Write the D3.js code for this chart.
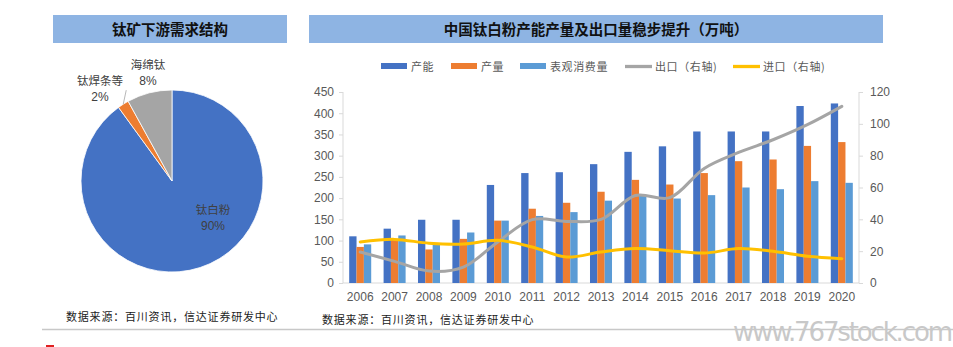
<!DOCTYPE html>
<html><head><meta charset="utf-8">
<script src="https://cdn.jsdelivr.net/npm/d3@7"></script>
<style>
body{margin:0;background:#fff;}
svg{display:block;}
</style></head>
<body><svg id="c" width="953" height="347"></svg>
<script>
// ---- data ----
const pieLabels = ["钛白粉", "钛焊条等", "海绵钛"];
const pieValues = [90, 2, 8];
const years = ["2006","2007","2008","2009","2010","2011","2012","2013","2014","2015","2016","2017","2018","2019","2020"];
const capacity = [110,128,149,149,231,259,261,280,309,322,357,357,357,417,423];
const production = [85,104,79,104,147,175,189,215,243,232,259,287,291,323,332];
const consumption = [91,112,92,119,147,158,167,194,205,199,207,225,221,240,236];
const exportVol = [19.5,13.6,7.5,10,25.8,39.8,38.7,40,55,53.6,72,82,90,99.5,111];
const importVol = [25.8,27.4,25,24.5,26.8,22.6,16.3,19.5,21.6,20.3,18.8,21.6,19.9,16.8,15.3];
const leftTicks = [0,50,100,150,200,250,300,350,400,450];
const rightTicks = [0,20,40,60,80,100,120];
const seriesNames = ["产能","产量","表观消费量"];
const lineNames = ["出口（右轴)","进口（右轴)"];
const title1 = "钛矿下游需求结构";
const title2 = "中国钛白粉产能产量及出口量稳步提升（万吨）";
const sourceText = "数据来源：百川资讯，信达证券研发中心";

const svg = d3.select("#c");
const barColors = ["#4472C4","#ED7D31","#5B9BD5"];
const pieColors = ["#4472C4","#ED7D31","#A5A5A5"];
const lineColors = ["#A5A5A5","#FFC000"];
const txt = "#404040";
const fontCJK = "'Noto Sans CJK SC', sans-serif";
const fontNum = "'Liberation Sans', Arial, sans-serif";

// title bars
svg.append("rect").attr("x",53).attr("y",15).attr("width",234).attr("height",28).attr("fill","#8EB4E3");
svg.append("text").attr("x",170).attr("y",34.5).attr("text-anchor","middle").attr("font-family",fontCJK)
  .attr("font-weight","bold").attr("font-size",14.5).attr("fill","#111").text(title1);
svg.append("rect").attr("x",309).attr("y",15).attr("width",574).attr("height",28).attr("fill","#8EB4E3");
svg.append("text").attr("x",596).attr("y",34.5).attr("text-anchor","middle").attr("font-family",fontCJK)
  .attr("font-weight","bold").attr("font-size",14.5).attr("fill","#111").text(title2);

// ---- pie ----
const pieG = svg.append("g").attr("transform","translate(172,181)");
const r = 91;
const pie = d3.pie().sort(null).value(d=>d)(pieValues);
const arc = d3.arc().innerRadius(0).outerRadius(r);
pieG.selectAll("path").data(pie).join("path").attr("d",arc)
  .attr("fill",(d,i)=>pieColors[i]).attr("stroke","#fff").attr("stroke-width",0.8);
// labels
const pieLabelPos = [[41,33],[-72,-96],[-24,-112]];
pie.forEach((d,i)=>{
  const [lx,ly]=pieLabelPos[i];
  const t = pieG.append("text").attr("text-anchor","middle").attr("fill",txt);
  t.append("tspan").attr("x",lx).attr("y",ly).attr("font-family",fontCJK).attr("font-size",11.5).text(pieLabels[i]);
  t.append("tspan").attr("x",lx).attr("y",ly+16).attr("font-family",fontNum).attr("font-size",12).text(pieValues[i]+"%");
});
// leader line for small slice
{
  const d = pie[1];
  const a = (d.startAngle+d.endAngle)/2;
  const px = Math.sin(a)*r, py = -Math.cos(a)*r;
  pieG.append("line").attr("x1",px).attr("y1",py).attr("x2",px+3).attr("y2",py-14)
    .attr("stroke","#A5A5A5").attr("stroke-width",0.8);
}

// ---- bar/line chart ----
const x0 = 343, x1 = 859, yTop = 92, yBot = 283;
const pIn = 0.36;
const x = d3.scaleBand().domain(years).range([x0,x1]).paddingInner(pIn).paddingOuter(pIn/2);
const xs = d3.scaleBand().domain(d3.range(3)).range([0,x.bandwidth()]).padding(0);
const yL = d3.scaleLinear().domain([0,450]).range([yBot,yTop]);
const yR = d3.scaleLinear().domain([0,120]).range([yBot,yTop]);

const axisCol = "#D9D9D9";
const gL = svg.append("g").attr("transform",`translate(${x0},0)`)
  .call(d3.axisLeft(yL).tickValues(leftTicks).tickSize(4).tickPadding(5));
const gR = svg.append("g").attr("transform",`translate(${x1},0)`)
  .call(d3.axisRight(yR).tickValues(rightTicks).tickSize(4).tickPadding(7));
[gL,gR].forEach(g=>{
  g.select(".domain").attr("stroke",axisCol).attr("d",`M0,${yTop}V${yBot}`);
  g.selectAll(".tick line").attr("stroke",axisCol);
  g.selectAll(".tick text").attr("fill","#595959").attr("font-family",fontNum).attr("font-size",12);
});
const gB = svg.append("g").attr("transform",`translate(0,${yBot})`)
  .call(d3.axisBottom(x).tickSize(0).tickPadding(9));
gB.select(".domain").attr("stroke",axisCol).attr("d",`M${x0},0H${x1}`);
gB.selectAll(".tick text").attr("fill","#595959").attr("font-family",fontNum).attr("font-size",12);

// bars
const barData = [capacity, production, consumption];
barData.forEach((arr,si)=>{
  svg.append("g").selectAll("rect").data(arr).join("rect")
    .attr("x",(d,i)=>x(years[i])+xs(si))
    .attr("y",d=>yL(d))
    .attr("width",xs.bandwidth())
    .attr("height",d=>yBot-yL(d))
    .attr("fill",barColors[si]);
});

// lines
const line = d3.line().curve(d3.curveCatmullRom.alpha(0.5))
  .x((d,i)=>x(years[i])+x.bandwidth()/2).y(d=>yR(d));
[exportVol, importVol].forEach((arr,li)=>{
  svg.append("path").attr("d",line(arr)).attr("fill","none")
    .attr("stroke",lineColors[li]).attr("stroke-width",3).attr("stroke-linecap","round");
});

// legend
const leg = svg.append("g").attr("font-family",fontCJK).attr("font-size",11).attr("letter-spacing",0.6).attr("fill","#595959");
const legItems = [
  {x:381, type:"rect", c:barColors[0], t:seriesNames[0]},
  {x:451, type:"rect", c:barColors[1], t:seriesNames[1]},
  {x:520, type:"rect", c:barColors[2], t:seriesNames[2]},
  {x:625, type:"line", c:lineColors[0], t:lineNames[0]},
  {x:733, type:"line", c:lineColors[1], t:lineNames[1]}
];
legItems.forEach(it=>{
  if(it.type==="rect") leg.append("rect").attr("x",it.x).attr("y",63).attr("width",26).attr("height",6).attr("fill",it.c);
  else leg.append("line").attr("x1",it.x).attr("x2",it.x+27).attr("y1",66.5).attr("y2",66.5).attr("stroke",it.c).attr("stroke-width",3.3);
  leg.append("text").attr("x",it.x+30).attr("y",70.5).text(it.t);
});

// sources
svg.append("text").attr("x",66).attr("y",321).attr("font-family",fontCJK).attr("font-size",11).attr("letter-spacing",0.8).attr("fill","#222").text(sourceText);
svg.append("text").attr("x",322).attr("y",324).attr("font-family",fontCJK).attr("font-size",11).attr("letter-spacing",0.8).attr("fill","#222").text(sourceText);
// divider
svg.append("line").attr("x1",42).attr("x2",953).attr("y1",329.5).attr("y2",329.5).attr("stroke","#C8C8C8").attr("stroke-width",1.5);
// watermark
svg.append("text").attr("x",733).attr("y",341).attr("font-family","'DejaVu Sans', sans-serif").attr("font-size",26)
  .attr("fill","#C8C8C8").attr("textLength",220).text("www.767stock.com");
svg.append("rect").attr("x",46).attr("y",345).attr("width",8).attr("height",2).attr("fill","#E02020");
</script></body></html>
